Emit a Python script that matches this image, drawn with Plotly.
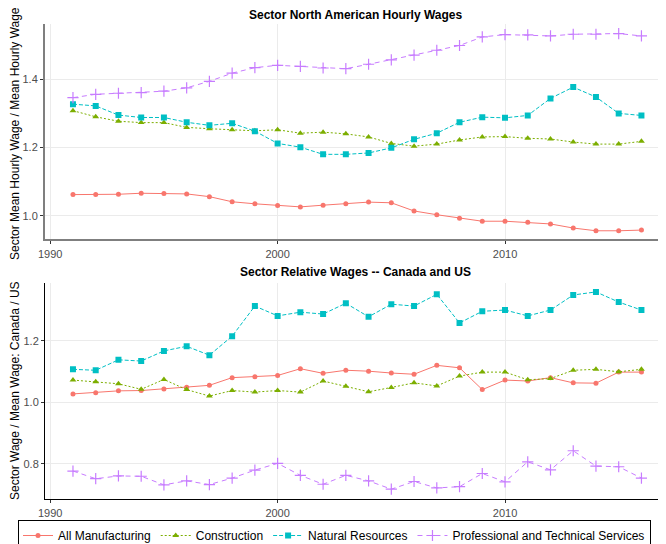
import plotly.graph_objects as go
from plotly.subplots import make_subplots

years = list(range(1991, 2017))

# top panel: sector mean hourly wage / mean hourly wage
na_manufacturing = [1.062, 1.062, 1.063, 1.066, 1.065, 1.064, 1.056, 1.041, 1.035, 1.030, 1.026, 1.031, 1.035,
                    1.040, 1.038, 1.014, 1.003, 0.993, 0.984, 0.984, 0.981, 0.976, 0.964, 0.956, 0.956, 0.958]
na_construction = [1.308, 1.290, 1.277, 1.273, 1.273, 1.259, 1.255, 1.252, 1.249, 1.252, 1.242, 1.245, 1.240,
                   1.231, 1.212, 1.204, 1.210, 1.222, 1.231, 1.232, 1.227, 1.225, 1.216, 1.210, 1.210, 1.218]
na_resources = [1.327, 1.322, 1.295, 1.288, 1.288, 1.274, 1.265, 1.271, 1.248, 1.212, 1.201, 1.180, 1.180,
                1.184, 1.199, 1.224, 1.242, 1.274, 1.289, 1.287, 1.294, 1.344, 1.377, 1.348, 1.300, 1.294]
na_professional = [1.346, 1.356, 1.359, 1.361, 1.365, 1.375, 1.394, 1.418, 1.434, 1.441, 1.438, 1.433, 1.431,
                   1.444, 1.457, 1.471, 1.485, 1.499, 1.524, 1.531, 1.530, 1.527, 1.532, 1.532, 1.534, 1.527]

# bottom panel: sector wage / mean wage, Canada / US
rel_manufacturing = [1.027, 1.031, 1.037, 1.038, 1.043, 1.049, 1.055, 1.080, 1.083, 1.087, 1.109, 1.094, 1.104,
                     1.101, 1.095, 1.091, 1.120, 1.112, 1.041, 1.072, 1.069, 1.080, 1.063, 1.062, 1.098, 1.098]
rel_construction = [1.072, 1.067, 1.060, 1.042, 1.074, 1.041, 1.020, 1.038, 1.033, 1.038, 1.033, 1.069, 1.052,
                    1.034, 1.048, 1.063, 1.053, 1.085, 1.098, 1.098, 1.073, 1.077, 1.104, 1.107, 1.099, 1.107]
rel_resources = [1.107, 1.104, 1.138, 1.134, 1.167, 1.182, 1.153, 1.215, 1.313, 1.281, 1.293, 1.287, 1.322,
                 1.278, 1.319, 1.313, 1.351, 1.258, 1.296, 1.300, 1.281, 1.300, 1.349, 1.359, 1.326, 1.300]
rel_professional = [0.776, 0.751, 0.760, 0.759, 0.731, 0.744, 0.732, 0.753, 0.779, 0.801, 0.762, 0.733, 0.762,
                    0.744, 0.717, 0.742, 0.721, 0.725, 0.768, 0.741, 0.806, 0.780, 0.842, 0.792, 0.790, 0.753]

sectors = ["All Manufacturing", "Construction", "Natural Resources", "Professional and Technical Services"]
colors = ["#F8766D", "#7CAE00", "#00BFC4", "#C77CFF"]
symbols = ["circle", "triangle-up", "square", "cross-thin"]
msizes = [5, 6, 6, 8]
dashes = ["solid", "2px,2px", "4px,2px", "5px,4px"]

# the page body has an 8px margin, so the figure is drawn 8px in and 8px down
OFF = 8
W, H = 666 - OFF, 544 - OFF
ML, MB = 37, 28
PLOT_BOTTOM = H - MB
PLOT_W = W - ML


def py(page_y):
    # page pixel row -> paper fraction of the plot area
    return (PLOT_BOTTOM - (page_y - OFF)) / PLOT_BOTTOM


def px_x(page_x):
    return (page_x - OFF - ML) / PLOT_W


fig = make_subplots(rows=2, cols=1)
fig.update_layout(
    yaxis=dict(domain=[py(239.3), py(24)]),
    yaxis2=dict(domain=[py(499.3), py(282.7)]),
)

top = [na_manufacturing, na_construction, na_resources, na_professional]
bottom = [rel_manufacturing, rel_construction, rel_resources, rel_professional]

for i, name in enumerate(sectors):
    for row, series in ((1, top[i]), (2, bottom[i])):
        fig.add_trace(go.Scatter(
            x=years, y=series, mode='lines+markers', name=name,
            legendgroup=name, showlegend=(row == 1),
            line=dict(color=colors[i], width=1, dash=dashes[i]),
            marker=dict(symbol=symbols[i], size=msizes[i], color=colors[i],
                        line=dict(color=colors[i], width=1.2 if symbols[i] == 'cross-thin' else 0)),
        ), row=row, col=1)

axis_common = dict(
    showgrid=True, gridcolor='#ebebeb', gridwidth=1.3,
    zeroline=False, ticks='outside', ticklen=3, tickcolor='#333333',
    tickfont=dict(size=11, color='#4d4d4d', family='Liberation Sans, Arial'),
    showline=True, mirror=False,
)

fig.update_xaxes(**axis_common, range=[1989.77, 2017.08], tickvals=[1990, 2000, 2010])
fig.update_xaxes(linecolor='#7f7f7f', linewidth=2, row=1, col=1)
fig.update_xaxes(linecolor='black', linewidth=1, row=2, col=1)

fig.update_yaxes(**axis_common)
fig.update_yaxes(range=[0.931, 1.562], tickvals=[1.0, 1.2, 1.4], tickformat='.1f',
                 linecolor='#7f7f7f', linewidth=2, row=1, col=1)
fig.update_yaxes(range=[0.684, 1.389], tickvals=[0.8, 1.0, 1.2], tickformat='.1f',
                 linecolor='black', linewidth=1, row=2, col=1)

# panel titles and y-axis titles
fig.add_annotation(text='<b>Sector North American Hourly Wages</b>', xref='paper', yref='paper',
                   x=0.5, y=py(15), xanchor='center', yanchor='middle', showarrow=False,
                   font=dict(size=12, color='black'))
fig.add_annotation(text='<b>Sector Relative Wages -- Canada and US</b>', xref='paper', yref='paper',
                   x=0.5, y=py(272), xanchor='center', yanchor='middle', showarrow=False,
                   font=dict(size=12, color='black'))
fig.add_annotation(text='Sector Mean Hourly Wage / Mean Hourly Wage', xref='paper', yref='paper',
                   x=px_x(15), y=py(134), xanchor='center', yanchor='middle', textangle=-90,
                   showarrow=False, font=dict(size=12, color='black'))
fig.add_annotation(text='Sector Wage / Mean Wage: Canada / US', xref='paper', yref='paper',
                   x=px_x(15), y=py(391), xanchor='center', yanchor='middle', textangle=-90,
                   showarrow=False, font=dict(size=12, color='black'))

fig.update_layout(
    width=W, height=H,
    margin=dict(l=ML, r=0, t=0, b=MB, autoexpand=False),
    paper_bgcolor='white', plot_bgcolor='white',
    font=dict(family='Liberation Sans, Arial', color='black'),
    legend=dict(orientation='h', x=px_x(18), xanchor='left',
                y=py(520), yanchor='top',
                bordercolor='black', borderwidth=1, font=dict(size=12),
                itemwidth=30, tracegroupgap=0),
)

fig.write_html("out.html")
